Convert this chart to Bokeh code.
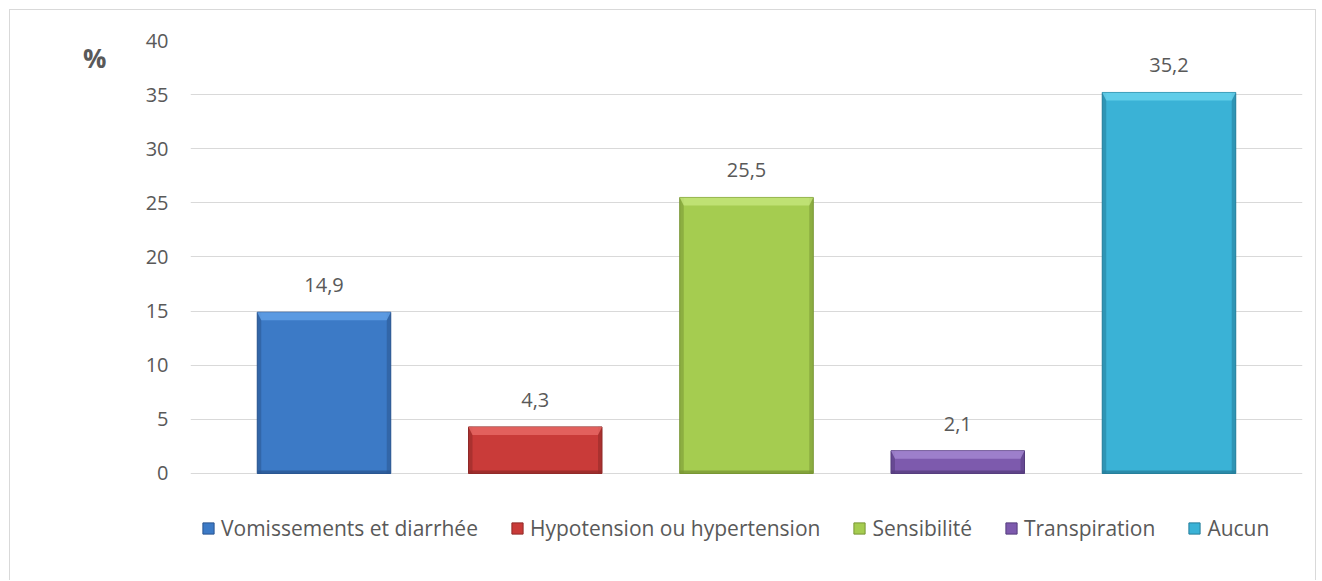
from bokeh.plotting import figure
from bokeh.models import (ColumnDataSource, Range1d, FixedTicker, Legend, LegendItem,
                          LinearAxis)
from bokeh.core.properties import value
from bokeh.embed import file_html
from bokeh.resources import INLINE

# ---- data ----
categories = ["Vomissements et diarrhée", "Hypotension ou hypertension",
              "Sensibilité", "Transpiration", "Aucun"]
values = [14.9, 4.3, 25.5, 2.1, 35.2]
y_ticks = [0, 5, 10, 15, 20, 25, 30, 35, 40]
y_unit = "%"
unit_pos = 38.4   # height of the "%" caption on the value scale

# ---- styles ----
body_colors = ["#3C7AC6", "#C93B39", "#A5CC50", "#7D5AAD", "#3AB2D6"]
light_colors = ["#63A2E8", "#E86A66", "#C6E67C", "#A588D2", "#6AD3EE"]
dark_colors = ["#2A5590", "#902A28", "#789634", "#553D7D", "#257E9B"]
FONT = "Open Sans"
TEXT = "#595959"
GRID = "#D9D9D9"
BAR_W = 0.632
TOP_BEVEL = 0.75
BOT_BEVEL = 0.28
SIDE_BEVEL = 0.019
LEGEND_ROOM = 8.04   # extra y room below 0 that holds the legend

x = list(range(len(categories)))
left = [i - BAR_W / 2 for i in x]
right = [i + BAR_W / 2 for i in x]
labels = [f"{v:.1f}".replace(".", ",") for v in values]

src = ColumnDataSource(dict(x=x, left=left, right=right, top=values,
                            bottom=[0] * len(values), body=body_colors,
                            light=light_colors, dark=dark_colors, label=labels,
                            bb=[BOT_BEVEL] * len(values),
                            lin=[l + SIDE_BEVEL for l in left],
                            rin=[r - SIDE_BEVEL for r in right]))
bevel_xs = [[l, r, r - SIDE_BEVEL, l + SIDE_BEVEL] for l, r in zip(left, right)]
bevel_ys = [[v, v, v - TOP_BEVEL, v - TOP_BEVEL] for v in values]
bevel_src = ColumnDataSource(dict(xs=bevel_xs, ys=bevel_ys, light=light_colors))

W, H = 1307, 571
p = figure(width=W, height=H, output_backend="svg", toolbar_location=None,
           x_range=Range1d(-0.632, len(categories) - 1 + 0.632),
           y_range=Range1d(y_ticks[0] - LEGEND_ROOM, y_ticks[-1]),
           x_axis_location=None,
           min_border_left=180, min_border_right=15,
           min_border_top=30, min_border_bottom=21)
p.outline_line_color = None
p.background_fill_color = "white"
p.border_fill_color = "white"
p.styles = {"margin-left": "9px", "margin-top": "9px",
            "border-top": "1px solid #D9D9D9", "border-left": "1px solid #D9D9D9",
            "border-right": "1px solid #D9D9D9"}

p.xgrid.grid_line_color = None
p.ygrid.grid_line_color = GRID
p.ygrid.grid_line_width = 1

ax = p.yaxis[0]
ax.ticker = FixedTicker(ticks=y_ticks)
ax.axis_line_color = None
ax.major_tick_line_color = None
ax.minor_tick_line_color = None
ax.major_tick_in = 0
ax.major_tick_out = 0
ax.major_label_standoff = 22
ax.major_label_text_font = FONT
ax.major_label_text_font_size = "20px"
ax.major_label_text_color = TEXT

# "%" caption as an extra left axis with a single labelled tick
unit_axis = LinearAxis(ticker=FixedTicker(ticks=[unit_pos]),
                       major_label_overrides={unit_pos: y_unit})
unit_axis.axis_line_color = None
unit_axis.major_tick_line_color = None
unit_axis.minor_tick_line_color = None
unit_axis.major_tick_in = 0
unit_axis.major_tick_out = 0
unit_axis.major_label_standoff = 36
unit_axis.major_label_text_font = FONT
unit_axis.major_label_text_font_size = "26px"
unit_axis.major_label_text_font_style = "bold"
unit_axis.major_label_text_color = TEXT
p.add_layout(unit_axis, "left")

# bars with bevel effect
body = p.quad(left="left", right="right", bottom="bottom", top="top", source=src,
              fill_color="body", line_color="dark", line_width=1)
p.quad(left="left", right="right", bottom="bottom", top="bb", source=src,
       fill_color="dark", line_color=None, fill_alpha=0.75)
p.quad(left="left", right="lin", bottom="bottom", top="top", source=src,
       fill_color="dark", line_color=None, fill_alpha=0.55)
p.quad(left="rin", right="right", bottom="bottom", top="top", source=src,
       fill_color="dark", line_color=None, fill_alpha=0.55)
p.patches(xs="xs", ys="ys", source=bevel_src, fill_color="light",
          line_color=None, fill_alpha=0.8)

# value labels
p.text(x="x", y="top", text="label", source=src, text_align="center",
       text_baseline="alphabetic", y_offset=-27, text_font=value(FONT),
       text_font_size="20px", text_color=TEXT)

legend = Legend(items=[LegendItem(label=c, renderers=[body], index=i)
                       for i, c in enumerate(categories)],
                orientation="horizontal", location=(11, 18),
                glyph_width=14, glyph_height=14, label_standoff=6, spacing=32,
                label_text_font=FONT, label_text_font_size="21px",
                label_text_color=TEXT, border_line_color=None,
                background_fill_alpha=0, margin=0, padding=5)
p.add_layout(legend, "center")

open("out.html", "w").write(file_html(p, INLINE))
